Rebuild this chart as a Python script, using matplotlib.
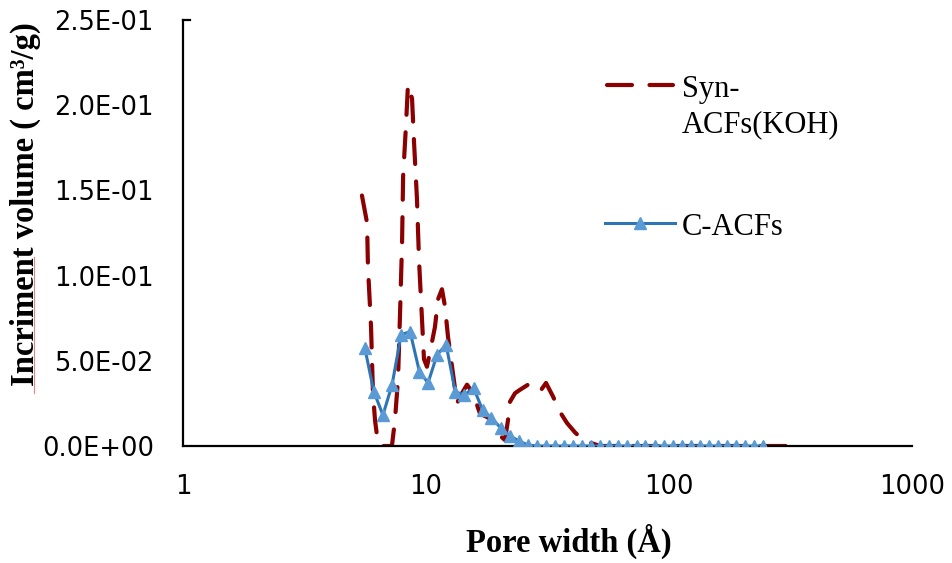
import matplotlib
matplotlib.use('Agg')
import matplotlib.pyplot as plt
from matplotlib.lines import Line2D
from matplotlib.ticker import FuncFormatter, FixedLocator, NullLocator

# Syn-ACFs(KOH) curve (pore width in A, increment volume cm3/g)
syn_x = [5.45, 5.72, 5.77, 5.94, 6.05, 6.17, 6.34, 6.55, 7.24, 7.45, 7.67, 7.82,
         7.97, 8.05, 8.27, 8.43, 8.76, 8.93, 9.18, 9.36, 9.63, 9.81, 10.09, 10.38,
         10.89, 11.20, 11.63, 11.97, 12.32, 12.80, 13.42, 13.80, 14.75, 15.61,
         16.68, 17.82, 19.23, 20.55, 21.14, 21.74, 22.17, 23.25, 24.37, 26.30,
         29.45, 31.18, 33.33, 35.59, 38.03, 41.03, 45.1, 47.3, 52.0, 321.0]
syn_y = [0.147, 0.131, 0.105, 0.070, 0.031, 0.015, 0.002, 0.0, 0.0, 0.015, 0.039, 0.078,
         0.119, 0.158, 0.188, 0.212, 0.204, 0.178, 0.145, 0.109, 0.074, 0.051, 0.0465, 0.055,
         0.070, 0.086, 0.092, 0.082, 0.064, 0.0465, 0.025, 0.029, 0.036, 0.031,
         0.019, 0.017, 0.0135, 0.005, 0.0035, 0.015, 0.026, 0.031, 0.033, 0.036,
         0.032, 0.037, 0.029, 0.020, 0.0135, 0.008, 0.0024, 0.002, 0.0, 0.0]

# C-ACFs points
cacf_x = [5.6, 6.1, 6.65, 7.25, 7.9, 8.6, 9.4, 10.2, 11.1, 12.1, 13.2, 14.4, 15.7,
          17.1, 18.6, 20.3, 22.1, 24.1, 26.2, 28.6, 31.1, 33.9, 37.0, 40.3, 43.9,
          47.8, 52.1, 56.8, 61.9, 67.4, 73.5, 80.0, 87.2, 95.0, 103.5, 112.8, 122.9,
          133.9, 145.9, 158.9, 173.2, 188.7, 205.6, 224.0, 244.0]
cacf_y = [0.0576, 0.0318, 0.0182, 0.0359, 0.0653, 0.0671, 0.0435, 0.0371, 0.0535,
          0.0594, 0.0318, 0.030, 0.0341, 0.021, 0.0165, 0.0106, 0.006, 0.003, 0.0006,
          0, 0, 0, 0, 0, 0, 0, 0, 0, 0, 0, 0, 0, 0, 0, 0, 0, 0, 0, 0, 0, 0, 0, 0, 0, 0]

x_ticks = [1, 10, 100, 1000]
y_ticks = [0.0, 0.05, 0.10, 0.15, 0.20, 0.25]

RED = '#8B0000'
BLUE_LINE = '#2E75B6'
BLUE_MARK = '#5B9BD5'
DASH = (6, 4.2)

W, H = 952, 563
fig = plt.figure(figsize=(W / 100, H / 100), dpi=100)
ax = fig.add_axes([183 / W, 1 - 446 / H, (912 - 183) / W, (446 - 20) / H])

ax.plot(syn_x, syn_y, color=RED, lw=3.0, dashes=DASH, dash_capstyle='round',
        solid_joinstyle='round', zorder=2)
ax.plot(cacf_x, cacf_y, color=BLUE_LINE, lw=2.2, marker='^', markersize=9,
        markerfacecolor=BLUE_MARK, markeredgecolor=BLUE_MARK, zorder=3)

ax.set_xscale('log')
ax.set_xlim(1, 1000)
ax.set_ylim(0, 0.25)
ax.xaxis.set_major_locator(FixedLocator(x_ticks))
ax.xaxis.set_minor_locator(NullLocator())
ax.xaxis.set_major_formatter(FuncFormatter(lambda v, p: f'{int(round(v))}'))
ax.yaxis.set_major_locator(FixedLocator(y_ticks))
ax.yaxis.set_major_formatter(FuncFormatter(lambda v, p: f'{v:.1E}'))

for s in ['top', 'right']:
    ax.spines[s].set_visible(False)
for s in ['left', 'bottom']:
    ax.spines[s].set_linewidth(1.6)
    ax.spines[s].set_color('black')
ax.tick_params(axis='both', length=0, labelsize=18.5, colors='black')
ax.tick_params(axis='y', pad=21)
ax.tick_params(axis='x', pad=20)
for lab in ax.get_xticklabels() + ax.get_yticklabels():
    lab.set_fontfamily('DejaVu Sans')

# small stub at top of y axis
ax.add_line(Line2D([0, 0.01], [1, 1], transform=ax.transAxes, color='black',
                   lw=1.6, clip_on=False))

serif = 'Liberation Serif'
fig.text(569 / W, 1 - 541 / H, 'Pore width (Å)', family=serif, weight='bold',
         fontsize=23.5, ha='center', va='center')
fig.text(25 / W, 1 - 204 / H, 'Incriment volume ( cm³/g)', family=serif,
         weight='bold', fontsize=23.5, rotation=90, ha='center', va='center')
# spell-check underline
fig.add_artist(Line2D([34 / W, 34 / W], [1 - 393 / H, 1 - 257 / H],
                      color='#F08080', lw=0.8))

# legend
fig.add_artist(Line2D([607 / W, 673 / W], [1 - 85 / H, 1 - 85 / H], color=RED,
                      lw=3.0, dashes=DASH, dash_capstyle='round'))
fig.text(682 / W, 1 - 97 / H, 'Syn-', family=serif, fontsize=22, va='baseline')
fig.text(682 / W, 1 - 132 / H, 'ACFs(KOH)', family=serif, fontsize=22, va='baseline')
fig.add_artist(Line2D([605 / W, 675 / W], [1 - 223 / H, 1 - 223 / H], color=BLUE_LINE,
                      lw=2.2))
fig.add_artist(Line2D([640 / W], [1 - 223 / H], color=BLUE_MARK, marker='^',
                      markersize=9, lw=0))
fig.text(682 / W, 1 - 235 / H, 'C-ACFs', family=serif, fontsize=22, va='baseline')

fig.savefig('out.png', dpi=100)
